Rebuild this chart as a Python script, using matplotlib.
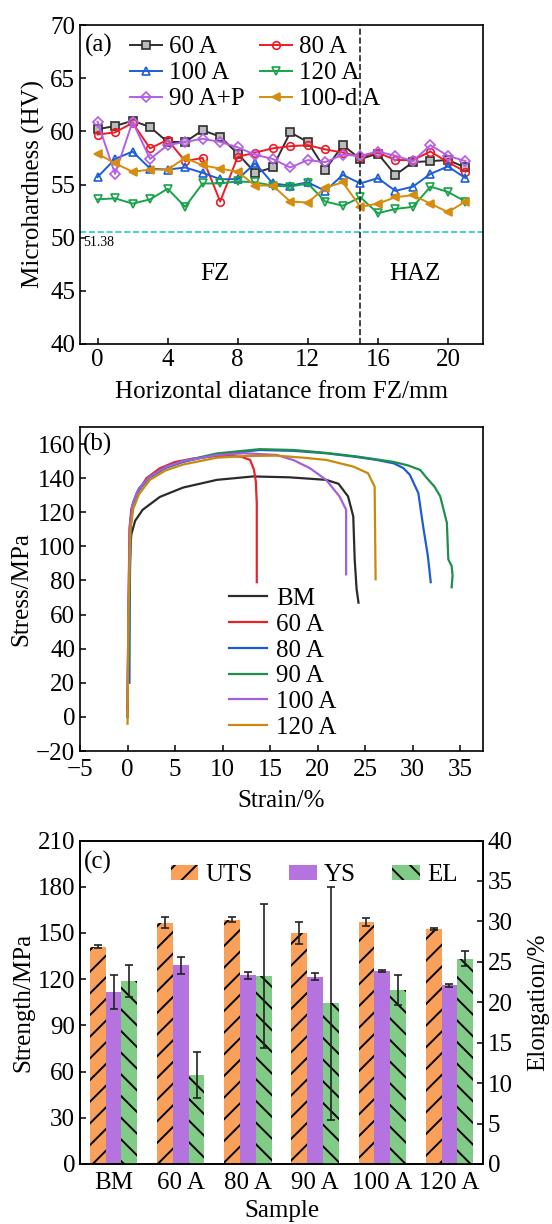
import matplotlib.pyplot as plt
import numpy as np

# sizes below are written as points at 100 dpi and scaled by K,
# the figure is drawn at 130 dpi so the bar hatching gets the right spacing
DPI = 130
K = 100 / DPI

plt.rcParams['font.family'] = ['Liberation Serif', 'DejaVu Serif']
plt.rcParams['font.size'] = 18 * K
plt.rcParams['axes.linewidth'] = 1.2 * K
plt.rcParams['hatch.linewidth'] = 1.4 * K
for a in ('xtick', 'ytick'):
    plt.rcParams[a + '.major.size'] = 4.5 * K
    plt.rcParams[a + '.major.width'] = 1.1 * K
    plt.rcParams[a + '.major.pad'] = 3.5 * K

# (a) microhardness profiles
dist = list(range(22))
hv_60 = [60.2, 60.5, 61.0, 60.4, 59.0, 59.0, 60.1, 59.5, 57.9, 56.1, 56.6, 59.9,
         59.0, 56.4, 58.7, 57.4, 57.9, 55.9, 57.1, 57.2, 57.3, 56.6]
hv_80 = [59.7, 59.9, 60.8, 58.4, 59.2, 57.2, 57.5, 53.4, 57.6, 58.0, 58.4, 58.6,
         58.7, 58.3, 58.0, 57.6, 58.0, 57.3, 57.3, 58.1, 57.1, 56.2]
hv_100 = [55.7, 57.4, 58.1, 56.5, 56.4, 56.6, 56.1, 55.5, 55.5, 57.0, 55.1, 54.9,
          55.2, 54.4, 55.9, 55.1, 55.6, 54.4, 54.8, 56.0, 56.7, 55.6]
hv_120 = [53.6, 53.7, 53.2, 53.6, 54.6, 52.9, 55.1, 55.1, 55.3, 55.2, 54.9, 54.8,
          55.1, 53.4, 53.0, 53.8, 52.3, 52.7, 52.9, 54.8, 54.3, 53.4]
hv_90p = [60.9, 56.0, 60.9, 57.4, 58.7, 59.0, 59.3, 59.0, 58.5, 57.8, 57.4, 56.6,
          57.3, 57.1, 57.8, 57.7, 58.1, 57.7, 57.2, 58.7, 57.7, 57.2]
hv_100d = [57.9, 57.0, 56.2, 56.4, 56.4, 57.5, 56.8, 56.5, 56.2, 54.9, 54.9, 53.4,
           53.3, 54.7, 55.2, 52.9, 53.2, 53.8, 54.0, 53.2, 52.4, 53.4]
bm_hv = 50.5
fz_edge = 15

# (b) stress-strain curves
bm_e = [0.0, 0.1, 0.3, 0.4, 0.8, 1.6, 3.4, 5.85, 9.4, 13.2, 17.0, 20.9, 22.2, 23.2, 23.75, 23.9, 24.1, 24.3]
bm_s = [0, 60, 100, 107, 115, 121.5, 129, 134.5, 139, 141, 140.5, 139, 136.7, 129.3, 117.6, 92.4, 75, 67]
a60_e = [0.0, 0.1, 0.2, 0.4, 0.95, 2.0, 3.4, 5.0, 6.9, 9.0, 10.4, 12.0, 12.9, 13.3, 13.5, 13.6, 13.6]
a60_s = [5, 60, 110, 122, 131, 140, 145.8, 149.5, 151.5, 152.8, 153.2, 152.5, 150.7, 145, 138, 125, 79]
a80_e = [0.2, 0.25, 0.35, 0.6, 1.2, 2.35, 4.0, 5.85, 9.4, 13.9, 17.5, 20.9, 24.0, 26.2, 28.0, 29.0, 29.7,
         30.6, 31.1, 31.6, 31.9]
a80_s = [20, 80, 113, 125, 133, 140.5, 146, 149.5, 154, 156.5, 156, 154.6, 152.5, 150.7, 148.7, 146, 142,
         131.2, 111.8, 94.3, 79]
a90_e = [0.1, 0.2, 0.3, 0.6, 1.2, 2.35, 4.0, 5.85, 9.4, 13.9, 17.5, 20.9, 24.0, 26.2, 28.0, 29.5, 30.8,
         31.5, 32.3, 32.9, 33.6, 33.75, 34.1, 34.2, 34.1]
a90_s = [30, 80, 114, 126, 134, 141, 146.5, 150, 154.5, 157, 156.5, 154.8, 152.8, 151, 149.5, 147.5, 144.8,
         140, 135, 129.3, 113.8, 92.4, 88.5, 83, 76]
a100_e = [0.0, 0.1, 0.25, 0.5, 1.1, 2.35, 4.0, 5.85, 9.4, 12.2, 15.7, 17.5, 19.2, 20.9, 22.3, 23.0, 23.0]
a100_s = [10, 70, 112, 124, 133, 141, 146.5, 150, 153.5, 154.6, 153.6, 150.5, 145.8, 139, 129.3, 121.5, 83.6]
a120_e = [0.0, 0.1, 0.3, 0.6, 1.2, 2.35, 4.0, 5.85, 9.4, 12.5, 15.7, 18.5, 20.9, 23.75, 25.3, 26.0, 26.1]
a120_s = [-4, 60, 110, 122, 130.5, 139, 144.5, 148, 152, 153, 153.2, 152, 150.7, 146.8, 142.9, 135, 80.7]

# (c) tensile properties
samples = ['BM', '60 A', '80 A', '90 A', '100 A', '120 A']
uts = [141, 156.5, 158.7, 150, 157, 152.8]
uts_err = [1.0, 3.6, 1.6, 6.9, 2.7, 0.7]
ys = [111.7, 129, 122.6, 121.5, 125.2, 116]
ys_err = [11, 5.4, 2.2, 2.2, 0.5, 1.1]
el = [22.6, 11.0, 23.2, 19.9, 21.5, 25.4]
el_err = [2.0, 2.8, 8.9, 14.4, 1.9, 0.9]

fig = plt.figure(figsize=(552/DPI, 1224/DPI), dpi=DPI)

# ---------- (a)
ax1 = fig.add_axes([80/552, 1-344/1224, 403/552, 319/1224])
mk = dict(ms=5.5*K, lw=1.4*K, mew=1.2*K)
l60, = ax1.plot(dist, hv_60, '-s', c='#2e2e2e', mfc='#bbbbbb', label='60 A', **mk)
l80, = ax1.plot(dist, hv_80, '-o', c='#ee1c25', mfc='none', label='80 A', **mk)
l100, = ax1.plot(dist, hv_100, '-^', c='#1b5ddb', mfc='none', label='100 A', **mk)
l120, = ax1.plot(dist, hv_120, '-v', c='#16a34a', mfc='none', label='120 A', **mk)
l90p, = ax1.plot(dist, hv_90p, '-D', c='#b35ee6', mfc='none', label='90 A+P',
                 ms=5*K, lw=1.4*K, mew=1.2*K)
l100d, = ax1.plot(dist, hv_100d, '-<', c='#d68c0c', label='100-d A', **mk)
ax1.axhline(bm_hv, ls='--', c='#22c8d8', lw=1.2*K)
ax1.axvline(fz_edge, ls='--', c='#222222', lw=1.2*K)
ax1.text(-0.85, bm_hv - 0.3, '51.38', fontsize=10*K, va='top', ha='left')
ax1.text(6.7, 46.6, 'FZ', ha='center', va='center')
ax1.text(18.1, 46.6, 'HAZ', ha='center', va='center')
ax1.text(-0.7, 68.1, '(a)', ha='left', va='center')
ax1.set_xlim(-1, 22)
ax1.set_ylim(40, 70)
ax1.set_xticks([0, 4, 8, 12, 16, 20])
ax1.set_yticks(range(40, 71, 5))
ax1.tick_params(direction='in')
ax1.set_xlabel('Horizontal diatance from FZ/mm', labelpad=7*K)
ax1.set_ylabel('Microhardness (HV)', labelpad=4*K)
ax1.legend(handles=[l60, l100, l90p, l80, l120, l100d], ncol=2, loc='upper left',
           bbox_to_anchor=(0.088, 1.013), frameon=False, handlelength=1.25,
           handletextpad=0.3, labelspacing=0.14, columnspacing=0.62, borderaxespad=0.2)

# ---------- (b)
ax2 = fig.add_axes([80/552, 1-751/1224, 403/552, 324/1224])
cw = 1.6 * K
ax2.plot(bm_e, bm_s, c='#2b2b2b', lw=cw, label='BM')
ax2.plot(a60_e, a60_s, c='#e8242a', lw=cw, label='60 A')
ax2.plot(a80_e, a80_s, c='#1f5bd6', lw=cw, label='80 A')
ax2.plot(a90_e, a90_s, c='#1e8f4a', lw=cw, label='90 A')
ax2.plot(a100_e, a100_s, c='#a45ee0', lw=cw, label='100 A')
ax2.plot(a120_e, a120_s, c='#c98a0a', lw=cw, label='120 A')
ax2.set_xlim(-5, 37.4)
ax2.set_ylim(-20, 170)
ax2.set_xticks(range(-5, 36, 5))
ax2.set_xticklabels(['\u22125'] + [str(v) for v in range(0, 36, 5)])
ax2.set_yticks(range(-20, 161, 20))
ax2.set_yticklabels(['\u221220'] + [str(v) for v in range(0, 161, 20)])
ax2.tick_params(direction='in')
ax2.tick_params(axis='x', pad=6*K)
ax2.text(-4.7, 160, '(b)', ha='left', va='center')
ax2.set_xlabel('Strain/%', labelpad=6*K)
ax2.set_ylabel('Stress/MPa', labelpad=2)
ax2.legend(loc='upper left', bbox_to_anchor=(0.313, 0.574), frameon=False,
           handlelength=1.55, handletextpad=0.35, labelspacing=0.13)

# ---------- (c)
ax3 = fig.add_axes([80/552, 1-1164/1224, 403/552, 323.5/1224])
ax3b = ax3.twinx()
pos = np.arange(1, len(samples) + 1)
w = 0.235
ek = dict(elinewidth=1.2*K, capthick=1.2*K, ecolor='#222222')
b1 = ax3.bar(pos - w, uts, w, yerr=uts_err, capsize=2.6*K, color='#f9a05a', edgecolor='black',
             linewidth=0, hatch='//', error_kw=ek, label='UTS')
b2 = ax3.bar(pos, ys, w, yerr=ys_err, capsize=2.6*K, color='#b573e0', linewidth=0,
             error_kw=ek, label='YS')
b3 = ax3b.bar(pos + w, el, w, yerr=el_err, capsize=2.6*K, color='#80cc86', edgecolor='black',
              linewidth=0, hatch='\\\\', error_kw=ek, label='EL')
ax3.set_xlim(0.5, 6.5)
ax3.set_ylim(0, 210)
ax3b.set_ylim(0, 40)
ax3.set_yticks(range(0, 211, 30))
ax3b.set_yticks(range(0, 41, 5))
ax3.set_xticks(pos)
ax3.set_xticklabels(samples)
ax3.tick_params(axis='y', direction='in')
ax3.tick_params(axis='x', length=0, pad=6*K)
ax3b.tick_params(axis='y', direction='in')
ax3.text(0.56, 196, '(c)', ha='left', va='center')
ax3.set_xlabel('Sample', labelpad=4*K)
ax3.set_ylabel('Strength/MPa', labelpad=2)
ax3b.set_ylabel('Elongation/%', labelpad=10*K)
ax3b.legend(handles=[b1, b2, b3], ncol=3, loc='upper left', bbox_to_anchor=(0.169, 0.997),
            frameon=False, handlelength=1.1, handleheight=0.55, handletextpad=0.3,
            columnspacing=1.45)

fig.savefig('out.png', dpi=DPI)
